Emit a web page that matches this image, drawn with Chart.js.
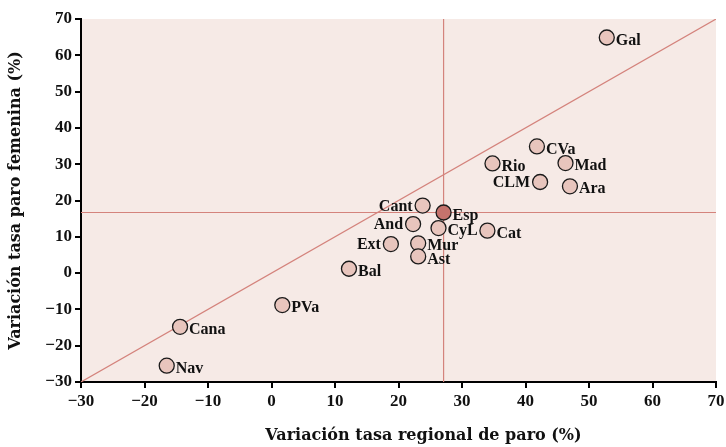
<!DOCTYPE html>
<html>
<head>
<meta charset="utf-8">
<script src="https://cdn.jsdelivr.net/npm/chart.js@4"></script>
<style>
  html, body { margin: 0; padding: 0; background: #fff; }
  #wrap { width: 726px; height: 447px; }
</style>
</head>
<body>
<div id="wrap"><canvas id="chart"></canvas></div>
<script>
// regions and their values (x = regional, y = female)
var regions = ["Gal", "CVa", "Rio", "Mad", "CLM", "Ara", "Cant", "And", "CyL", "Cat",
               "Ext", "Mur", "Ast", "Bal", "PVa", "Cana", "Nav"];
var regionalRate = [52.8, 41.8, 34.8, 46.3, 42.3, 47.0, 23.8, 22.3, 26.3, 34.0,
                    18.8, 23.1, 23.1, 12.2, 1.7, -14.4, -16.5];
var femaleRate = [64.9, 34.9, 30.2, 30.3, 25.1, 23.9, 18.6, 13.5, 12.4, 11.7,
                  8.0, 8.2, 4.6, 1.2, -8.8, -14.8, -25.5];
var leftLabels = ["Cant", "And", "Ext", "CLM"];
var spain = { name: "Esp", x: 27.1, y: 16.7 };
var ticks = [-30, -20, -10, 0, 10, 20, 30, 40, 50, 60, 70];
var xTitle = "Variación tasa regional de paro (%)";
var yTitle = "Variación tasa paro femenina (%)";

var fontFamily = "'Liberation Serif', 'Times New Roman', serif";
var titleFamily = "'DejaVu Serif', 'Liberation Serif', serif";
var lineColor = "#d4837c";

var pts = [];
for (var i = 0; i < regions.length; i++) {
  pts.push({ x: regionalRate[i], y: femaleRate[i], name: regions[i] });
}

var plotBg = {
  id: "plotBg",
  beforeDraw: function(chart) {
    var a = chart.chartArea;
    var ctx = chart.ctx;
    ctx.save();
    ctx.fillStyle = "#f6eae6";
    ctx.fillRect(a.left, a.top, a.right - a.left, a.bottom - a.top);
    ctx.restore();
  }
};

// x title sits a bit right of the plot centre in the original
var xTitlePlugin = {
  id: "xTitlePlugin",
  afterDraw: function(chart) {
    var ctx = chart.ctx;
    var a = chart.chartArea;
    ctx.save();
    ctx.font = "bold 16px " + titleFamily;
    ctx.fillStyle = "#111";
    ctx.textAlign = "center";
    ctx.textBaseline = "alphabetic";
    ctx.fillText(xTitle, (a.left + a.right) / 2 + 25, 440);
    ctx.restore();
  }
};

var pointLabels = {
  id: "pointLabels",
  afterDatasetsDraw: function(chart) {
    var ctx = chart.ctx;
    var xs = chart.scales.x, ys = chart.scales.y;
    ctx.save();
    ctx.font = "bold 16px " + fontFamily;
    ctx.fillStyle = "#111";
    ctx.textBaseline = "middle";
    var all = pts.concat([{ x: spain.x, y: spain.y, name: spain.name }]);
    all.forEach(function(p) {
      var px = xs.getPixelForValue(p.x);
      var py = ys.getPixelForValue(p.y);
      if (leftLabels.indexOf(p.name) >= 0) {
        ctx.textAlign = "right";
        ctx.fillText(p.name, px - 10, py + 1);
      } else {
        ctx.textAlign = "left";
        ctx.fillText(p.name, px + 9, py + 3);
      }
    });
    ctx.restore();
  }
};

var ctx = document.getElementById("chart").getContext("2d");
var chart = new Chart(ctx, {
  type: "scatter",
  data: {
    datasets: [
      {
        type: "line",
        data: [{ x: -30, y: -30 }, { x: 70, y: 70 }],
        borderColor: lineColor,
        borderWidth: 1.2,
        pointRadius: 0,
        order: 5
      },
      {
        type: "line",
        data: [{ x: -30, y: spain.y }, { x: 70, y: spain.y }],
        borderColor: lineColor,
        borderWidth: 1.2,
        pointRadius: 0,
        order: 5
      },
      {
        type: "line",
        data: [{ x: spain.x, y: -30 }, { x: spain.x, y: 70 }],
        borderColor: lineColor,
        borderWidth: 1.2,
        pointRadius: 0,
        order: 5
      },
      {
        data: pts,
        backgroundColor: "#e8c5bd",
        borderColor: "#1a1a1a",
        borderWidth: 1.3,
        pointRadius: 7.5,
        order: 1
      },
      {
        data: [{ x: spain.x, y: spain.y }],
        backgroundColor: "#c5736d",
        borderColor: "#1a1a1a",
        borderWidth: 1.3,
        pointRadius: 7.5,
        order: 0
      }
    ]
  },
  options: {
    responsive: true,
    maintainAspectRatio: false,
    animation: false,
    layout: { padding: { top: 19, right: 10, left: 0, bottom: 0 } },
    plugins: { legend: { display: false }, tooltip: { enabled: false } },
    scales: {
      x: {
        type: "linear",
        min: -30,
        max: 70,
        afterBuildTicks: function(s) { s.ticks = ticks.map(function(v) { return { value: v }; }); },
        afterFit: function(s) { s.height = 65; s.paddingLeft = 0; s.paddingRight = 0; },
        border: { display: true, color: "#000", width: 2 },
        grid: { drawOnChartArea: false, drawTicks: true, tickLength: 6, color: "#000", lineWidth: 2 },
        ticks: {
          color: "#111",
          font: { family: fontFamily, size: 17, weight: "bold" },
          padding: 3,
          maxRotation: 0,
          callback: function(v) { return v < 0 ? "\u2212" + Math.abs(v) : v; }
        },
        title: { display: false }
      },
      y: {
        type: "linear",
        min: -30,
        max: 70,
        afterBuildTicks: function(s) { s.ticks = ticks.map(function(v) { return { value: v }; }); },
        afterFit: function(s) { s.width = 81; s.paddingTop = 0; s.paddingBottom = 0; },
        border: { display: true, color: "#000", width: 2 },
        grid: { drawOnChartArea: false, drawTicks: true, tickLength: 6, color: "#000", lineWidth: 2 },
        ticks: {
          color: "#111",
          font: { family: fontFamily, size: 17, weight: "bold" },
          padding: 3,
          callback: function(v) { return v < 0 ? "\u2212" + Math.abs(v) : v; }
        },
        title: {
          display: true,
          text: yTitle,
          color: "#111",
          font: { family: titleFamily, size: 16, weight: "bold" },
          padding: { top: 6, bottom: 4 }
        }
      }
    }
  },
  plugins: [plotBg, pointLabels, xTitlePlugin]
});
</script>
</body>
</html>
